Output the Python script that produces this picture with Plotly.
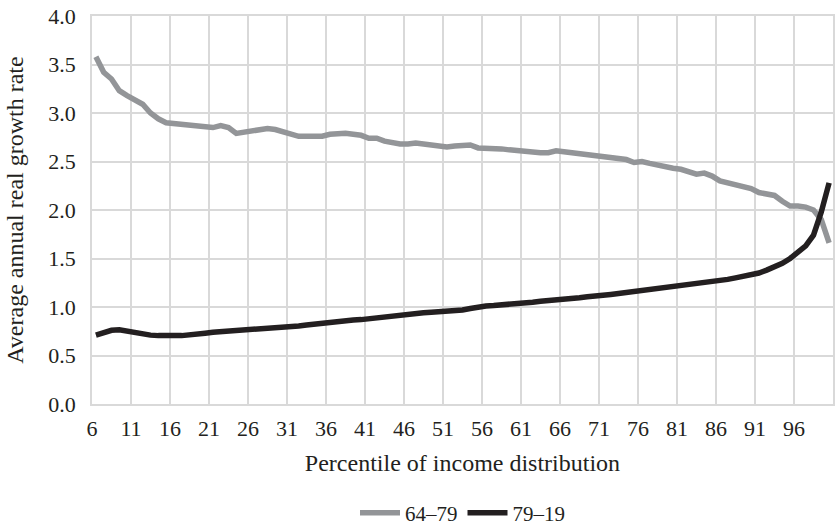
import plotly.graph_objects as go

percentiles = list(range(6, 101))

growth_64_79 = [
    3.58, 3.42, 3.35, 3.23, 3.18, 3.13, 3.09, 3.00, 2.94, 2.90,
    2.89, 2.89, 2.87, 2.87, 2.85, 2.85, 2.87, 2.85, 2.79, 2.80,
    2.82, 2.83, 2.84, 2.83, 2.81, 2.79, 2.76, 2.76, 2.76, 2.76,
    2.78, 2.79, 2.79, 2.78, 2.77, 2.74, 2.74, 2.71, 2.69, 2.68,
    2.68, 2.69, 2.68, 2.67, 2.66, 2.65, 2.66, 2.66, 2.67, 2.64,
    2.64, 2.64, 2.63, 2.62, 2.61, 2.60, 2.60, 2.59, 2.59, 2.61,
    2.60, 2.59, 2.58, 2.56, 2.56, 2.55, 2.53, 2.53, 2.52, 2.49,
    2.50, 2.48, 2.46, 2.45, 2.43, 2.42, 2.39, 2.37, 2.38, 2.35,
    2.30, 2.28, 2.27, 2.24, 2.22, 2.18, 2.17, 2.15, 2.09, 2.04,
    2.04, 2.03, 2.00, 1.90, 1.66,
]

growth_79_19 = [
    0.71, 0.74, 0.76, 0.765, 0.75, 0.735, 0.72, 0.71, 0.705, 0.70,
    0.705, 0.705, 0.71, 0.72, 0.73, 0.74, 0.745, 0.75, 0.76, 0.77,
    0.775, 0.78, 0.785, 0.79, 0.795, 0.80, 0.805, 0.815, 0.825, 0.835,
    0.845, 0.85, 0.855, 0.865, 0.87, 0.88, 0.89, 0.90, 0.91, 0.915,
    0.92, 0.93, 0.94, 0.945, 0.95, 0.955, 0.96, 0.97, 0.985, 1.00,
    1.01, 1.015, 1.02, 1.03, 1.04, 1.045, 1.05, 1.06, 1.065, 1.07,
    1.08, 1.09, 1.095, 1.105, 1.11, 1.12, 1.13, 1.14, 1.15, 1.16,
    1.165, 1.175, 1.185, 1.195, 1.21, 1.225, 1.235, 1.24, 1.245, 1.26,
    1.27, 1.285, 1.30, 1.315, 1.33, 1.35, 1.38, 1.41, 1.45, 1.50,
    1.56, 1.63, 1.74, 1.98, 2.28,
]

tick_labels = ["6", "11", "16", "21", "26", "31", "36", "41", "46", "51",
               "56", "61", "66", "71", "76", "81", "86", "91", "96", ""]

series_names = ["64–79", "79–19"]

FONT = "Liberation Serif"
grid = "#d9d9d9"

fig = go.Figure()
fig.add_trace(go.Scatter(x=percentiles, y=growth_64_79, mode="lines", name=series_names[0],
                         line=dict(color="#939598", width=5.5)))
fig.add_trace(go.Scatter(x=percentiles, y=growth_79_19, mode="lines", name=series_names[1],
                         line=dict(color="#231f20", width=5.5)))

tickvals = [p - 0.5 for p in range(6, 102, 5)]

fig.update_layout(
    width=835, height=530,
    margin=dict(l=92, r=2, t=16, b=126, autoexpand=False),
    paper_bgcolor="white", plot_bgcolor="white",
    font=dict(family=FONT, size=22, color="#231f20"),
    showlegend=True,
    legend=dict(orientation="h", xref="paper", yref="container",
                x=0.5, xanchor="center", y=0.032, yanchor="middle",
                font=dict(size=21), itemwidth=40, traceorder="normal"),
    xaxis=dict(range=[5.5, 100.5], tickmode="array", tickvals=tickvals, ticktext=tick_labels,
               showgrid=True, gridcolor=grid, gridwidth=1.5, zeroline=False,
               showline=True, linecolor=grid, linewidth=1.5, mirror=True,
               ticks="", ticklabelstandoff=4, automargin=False,
               tickfont=dict(size=22),
               title=dict(text="Percentile of income distribution", standoff=14,
                          font=dict(size=24))),
    yaxis=dict(range=[0, 4], dtick=0.5, tickformat=".1f",
               showgrid=True, gridcolor=grid, gridwidth=1.5, zeroline=False,
               showline=True, linecolor=grid, linewidth=1.5, mirror=True,
               ticks="", ticklabelstandoff=10, automargin=False,
               tickfont=dict(size=22),
               title=dict(text="Average annual real growth rate", standoff=18,
                          font=dict(size=24))),
)

fig.write_html("out.html", config={"displayModeBar": False},
               post_script="document.body.style.margin='0px';")
